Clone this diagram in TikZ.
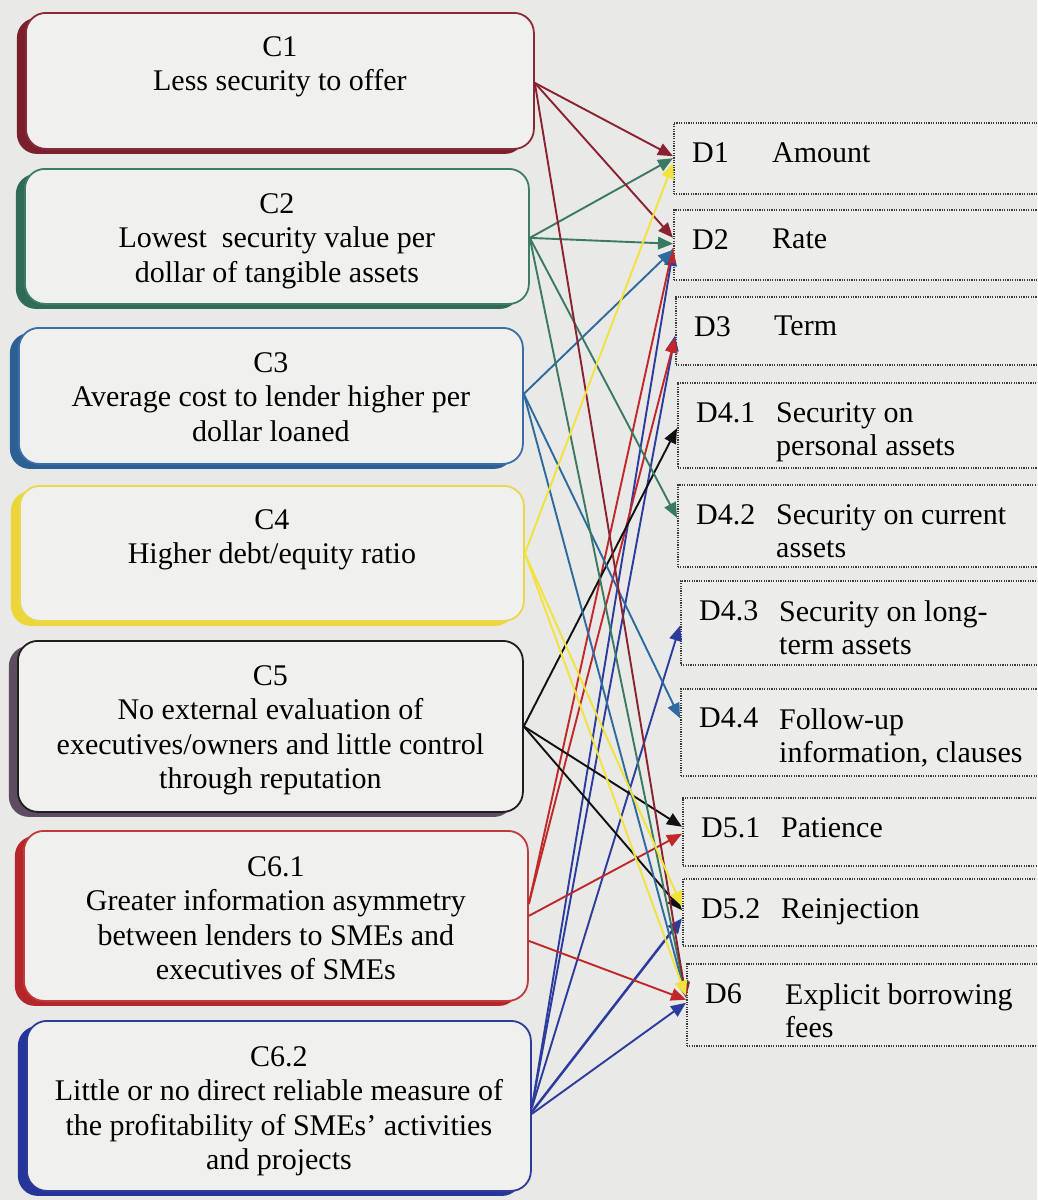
\documentclass[tikz,border=0pt]{standalone}
\usepackage{fontspec}
\setmainfont{Liberation Serif}
\usetikzlibrary{arrows.meta,shadows,calc}

\definecolor{bg}{HTML}{E9E9E7}
\definecolor{boxfill}{HTML}{F0F0EE}
\definecolor{dfill}{HTML}{ECECEA}
\definecolor{dotcol}{HTML}{3A3A3A}
% borders / shadows / lines
\definecolor{b1}{HTML}{8A2A36}\definecolor{s1}{HTML}{7A1F2C}\definecolor{l1}{HTML}{8B2231}
\definecolor{b2}{HTML}{3D7D68}\definecolor{s2}{HTML}{2F6B56}\definecolor{l2}{HTML}{3A7A60}
\definecolor{b3}{HTML}{3B6EA8}\definecolor{s3}{HTML}{2C5F94}\definecolor{l3}{HTML}{2D6AA0}
\definecolor{b4}{HTML}{E9D84E}\definecolor{s4}{HTML}{ECD63A}\definecolor{l4}{HTML}{F2E33C}
\definecolor{b5}{HTML}{1E1E1E}\definecolor{s5}{HTML}{5E4C60}\definecolor{l5}{HTML}{111111}
\definecolor{b61}{HTML}{C0393B}\definecolor{s61}{HTML}{B5262A}\definecolor{l61}{HTML}{C0282A}
\definecolor{b62}{HTML}{2C3D96}\definecolor{s62}{HTML}{25359A}\definecolor{l62}{HTML}{2B3C9E}

\begin{document}
\begin{tikzpicture}[x=1pt,y=-1pt,
  cbox/.style 2 args={draw=#1, line width=1.8pt, rounded corners=20pt, fill=boxfill,
     anchor=north west, inner sep=0pt,
     general shadow={fill=#2, shadow xshift=-9pt, shadow yshift=-5pt}},
  ctext/.style={anchor=north, inner sep=0pt, align=center, font=\fontsize{30}{34.5}\selectfont},
  dbox/.style={draw=dotcol, line width=1.5pt, dash pattern=on 1.2pt off 1.2pt, fill=dfill,
     anchor=north west, inner sep=0pt, minimum width=420pt},
  dtext/.style={anchor=north west, inner sep=0pt, align=left, font=\fontsize{30}{33}\selectfont},
  conn/.style={draw=#1, line width=1.9pt, -{Triangle[length=15pt,width=12.5pt]}}
]
\path[use as bounding box] (0,0) rectangle (1037,1200);
\clip (0,0) rectangle (1037,1200);
\fill[bg] (0,0) rectangle (1037,1200);

% ---------- left boxes ----------
\node[cbox={b1}{s1}, minimum width=508pt, minimum height=136pt] (c1) at (25,12) {};
\node[cbox={b2}{s2}, minimum width=504pt, minimum height=135pt] (c2) at (24,168) {};
\node[cbox={b3}{s3}, minimum width=504pt, minimum height=136pt] (c3) at (18,327) {};
\node[cbox={b4}{s4}, minimum width=504pt, minimum height=135pt] (c4) at (19,485) {};
\node[cbox={b5}{s5}, minimum width=505pt, minimum height=171pt] (c5) at (17,640) {};
\node[cbox={b61}{s61}, minimum width=504pt, minimum height=170pt] (c61) at (23,830) {};
\node[cbox={b62}{s62}, minimum width=504pt, minimum height=170pt] (c62) at (26,1020) {};

\node[ctext] (t1) at ($(c1.north)+(0,24)$) {C1\\Less security to offer};
\node[ctext] (t2) at ($(c2.north)+(0,25)$) {C2\\Lowest\ \ security value per\\dollar of tangible assets};
\node[ctext] (t3) at ($(c3.north)+(0,25)$) {C3\\Average cost to lender higher per\\dollar loaned};
\node[ctext] (t4) at ($(c4.north)+(0,24)$) {C4\\Higher debt/equity ratio};
\node[ctext] (t5) at ($(c5.north)+(0,25)$) {C5\\No external evaluation of\\executives/owners and little control\\through reputation};
\node[ctext] (t61) at ($(c61.north)+(0,26)$) {C6.1\\Greater information asymmetry\\between lenders to SMEs and\\executives of SMEs};
\node[ctext] (t62) at ($(c62.north)+(0,26)$) {C6.2\\Little or no direct reliable measure of\\the profitability of SMEs’ activities\\and projects};

% ---------- right boxes ----------
\node[dbox, minimum height=71pt] (d1) at (673,122) {};
\node[dbox, minimum height=70pt] (d2) at (673,209) {};
\node[dbox, minimum height=68pt] (d3) at (675,296) {};
\node[dbox, minimum height=85pt] (d41) at (677,382) {};
\node[dbox, minimum height=82pt] (d42) at (677,484) {};
\node[dbox, minimum height=84pt] (d43) at (680,580) {};
\node[dbox, minimum height=87pt] (d44) at (680,688) {};
\node[dbox, minimum height=68pt] (d51) at (682,797) {};
\node[dbox, minimum height=67pt] (d52) at (682,878) {};
\node[dbox, minimum height=82pt] (d6) at (686,963) {};

\foreach \n/\lab/\desc in {d1/D1/Amount, d2/D2/Rate, d3/D3/Term,
   d41/D4.1/{Security on\\personal assets}, d42/D4.2/{Security on current\\assets},
   d43/D4.3/{Security on long-\\term assets}, d44/D4.4/{Follow-up\\information, clauses},
   d51/D5.1/Patience, d52/D5.2/Reinjection, d6/D6/{Explicit borrowing\\fees}}{
  \node[dtext] (\n l) at ($(\n.north west)+(19,20)$) {\lab};
  \node[dtext] (\n t) at ($(\n.north west)+(99,20)$) {\desc};
}

% ---------- connectors ----------
% C6.2
\draw[conn=l62] ($(c62.east)+(0,2)$) -- ($(d2.west)+(0,6)$);
\draw[conn=l62] ($(c62.east)+(0,2)$) -- ($(d3.west)+(0,5)$);
\draw[conn=l62] ($(c62.east)+(0,2)$) -- ($(d43.west)+(0,3)$);
\draw[conn=l62, line width=2.5pt] ($(c62.east)+(0,6)$) -- ($(d52.west)+(0,6)$);
\draw[conn=l62] ($(c62.east)+(0,8)$) -- ($(d6.west)+(0,-2)$);
% C6.1
\draw[conn=l61] ($(c61.east)+(0,-12)$) -- ($(d2.west)+(0,3)$);
\draw[conn=l61] ($(c61.east)+(0,-12)$) -- ($(d3.west)+(0,7)$);
\draw[conn=l61] (c61.east) -- ($(d51.west)+(0,2)$);
\draw[conn=l61] ($(c61.east)+(0,25)$) -- ($(d6.west)+(0,-5)$);
% C5
\draw[conn=l5] (c5.east) -- ($(d41.west)+(0,3)$);
\draw[conn=l5] (c5.east) -- ($(d51.west)+(0,-5)$);
\draw[conn=l5] (c5.east) -- ($(d52.west)+(0,-2)$);
% C3
\draw[conn=l3] ($(c3.east)+(0,-2)$) -- ($(d2.west)+(0,5)$);
\draw[conn=l3] ($(c3.east)+(0,-2)$) -- ($(d44.west)+(0,-14)$);
\draw[conn=l3] ($(c3.east)+(0,-2)$) -- ($(d6.west)+(0,-8)$);
% C2
\draw[conn=l2] ($(c2.east)+(0,1.5)$) -- (d1.west);
\draw[conn=l2] ($(c2.east)+(0,1.5)$) -- ($(d2.west)+(0,-1)$);
\draw[conn=l2] ($(c2.east)+(0,1.5)$) -- ($(d42.west)+(0,-8)$);
\draw[conn=l2] ($(c2.east)+(0,1.5)$) -- ($(d6.west)+(0,-8)$);
% C1
\draw[conn=l1] ($(c1.east)+(0,2)$) -- ($(d1.west)+(0,-2)$);
\draw[conn=l1] ($(c1.east)+(0,2)$) -- ($(d2.west)+(0,-7)$);
\draw[conn=l1] ($(c1.east)+(0,2)$) -- ($(d6.west)+(0,-7)$);
% C4
\draw[conn=l4] (c4.east) -- ($(d1.west)+(0,5)$);
\draw[conn=l4] (c4.east) -- ($(d52.west)+(0,-6)$);
\draw[conn=l4] (c4.east) -- ($(d6.west)+(0,-9)$);
\end{tikzpicture}
\end{document}
